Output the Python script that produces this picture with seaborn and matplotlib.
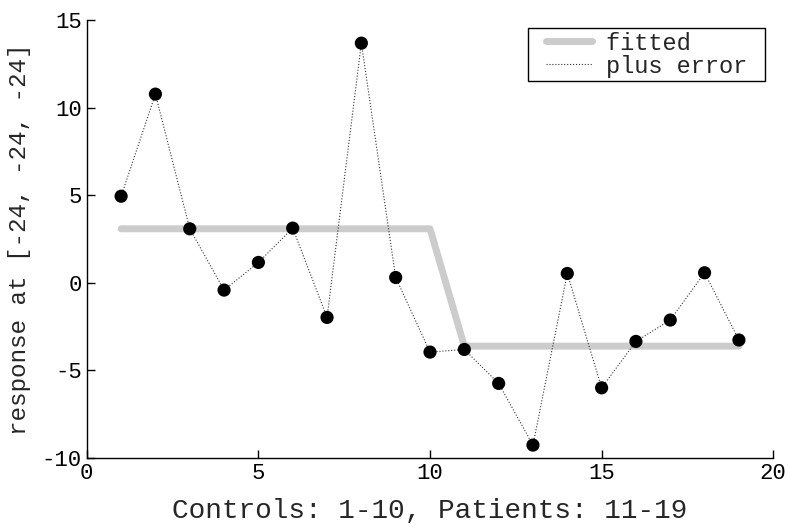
import pandas as pd
import matplotlib
matplotlib.use("Agg")
import matplotlib.pyplot as plt
from matplotlib.lines import Line2D
from matplotlib.legend_handler import HandlerLine2D
import seaborn as sns

# Data
subject = list(range(1, 20))
response = [4.95, 10.78, 3.09, -0.41, 1.17, 3.13, -1.97, 13.69, 0.31, -3.95,
            -3.80, -5.74, -9.26, 0.54, -5.99, -3.34, -2.12, 0.58, -3.26]
fitted = [3.09] * 10 + [-3.61] * 9

df = pd.DataFrame({"subject": subject, "response": response, "fitted": fitted})

sns.set_style("ticks")
plt.rcParams["font.family"] = ["Liberation Mono", "DejaVu Sans Mono"]

fig = plt.figure(figsize=(7.89, 5.32), dpi=100)
ax = fig.add_axes([0.110, 0.139, 0.870, 0.823])

sns.lineplot(data=df, x="subject", y="fitted", ax=ax, color="#cccccc",
             linewidth=5, label="fitted ")
sns.lineplot(data=df, x="subject", y="response", ax=ax, color="#333333",
             linewidth=0.8, linestyle=":", label="plus error ")
sns.scatterplot(data=df, x="subject", y="response", ax=ax, color="black",
                s=90, edgecolor="none", legend=False, zorder=3)

ax.set_xlim(0, 20)
ax.set_ylim(-10, 15)
ax.set_xticks([0, 5, 10, 15, 20])
ax.set_yticks([-10, -5, 0, 5, 10, 15])
ax.tick_params(direction="in", labelsize=16, length=6, width=1, colors="black")
ax.set_yticklabels(["-10", "-5", "0", "5", "10", "15"])
ax.set_xlabel("Controls: 1-10, Patients: 11-19", fontsize=20, labelpad=10)
ax.set_ylabel("response at [-24, -24, -24]", fontsize=17.5, labelpad=8)
sns.despine(ax=ax)
for side in ["left", "bottom"]:
    ax.spines[side].set_color("black")
    ax.spines[side].set_linewidth(1)

# legend with extra room to the left of the handles
leg = ax.legend(loc="upper right", fontsize=17, frameon=True, fancybox=False,
                framealpha=1, edgecolor="black", handlelength=2.55,
                handletextpad=0.6, borderpad=0.15, labelspacing=0.0,
                borderaxespad=0, bbox_to_anchor=(0.988, 0.982),
                handler_map={Line2D: HandlerLine2D(xpad=0.6)})
leg.get_frame().set_linewidth(1)

fig.savefig("out.png", dpi=100)
